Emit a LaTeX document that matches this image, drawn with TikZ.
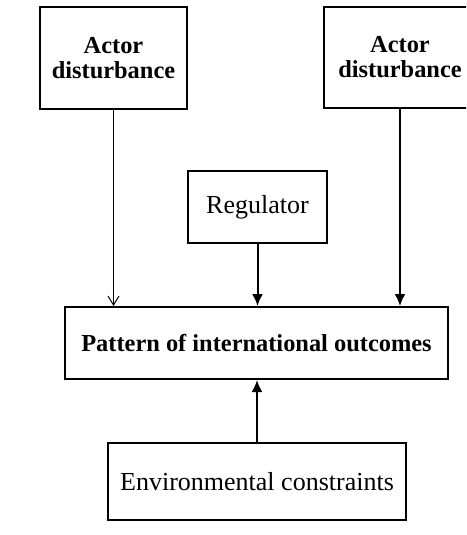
\documentclass[tikz,border=0pt]{standalone}
\usepackage{fontspec}
\setmainfont{Liberation Serif}
\usetikzlibrary{arrows.meta,positioning}

\begin{document}
\begin{tikzpicture}[x=0.5pt,y=-0.5pt,
  box/.style={draw, rectangle, line width=1pt, align=center, font=\fontsize{13}{12.5}\selectfont},
  boldbox/.style={box, font=\fontsize{12.2}{12.5}\selectfont\bfseries},
  thick arrow/.style={line width=1pt, -{Latex[length=6pt,width=5.5pt]}},
  thin arrow/.style={line width=0.5pt, -{Straight Barb[length=4.5pt,width=5.5pt]}}]
\clip (0,0) rectangle (466,535);

% Actor boxes
\node[boldbox, minimum width=73.5pt, minimum height=51pt] (actorL) at (113.5,58) {Actor\\disturbance};
\node[boldbox, minimum width=76pt, minimum height=50.5pt] (actorR) at (400,57.5) {Actor\\disturbance};

% Regulator
\node[box, minimum width=69.5pt, minimum height=36pt] (reg) at (257.5,207) {Regulator};

% Outcomes
\node[boldbox, minimum width=191.5pt, minimum height=36pt] (pattern) at (256.5,343) {Pattern of international outcomes};

% Environment
\node[box, minimum width=149pt, minimum height=38.5pt] (env) at (257,481.5) {Environmental constraints};

% Connections
\draw[thin arrow] (actorL.south) -- (actorL.south |- pattern.north);
\draw[thick arrow] (reg.south) -- (reg.south |- pattern.north);
\draw[thick arrow] (actorR.south) -- (actorR.south |- pattern.north);
\draw[thick arrow] (env.north) -- (env.north |- pattern.south);

\end{tikzpicture}
\end{document}
